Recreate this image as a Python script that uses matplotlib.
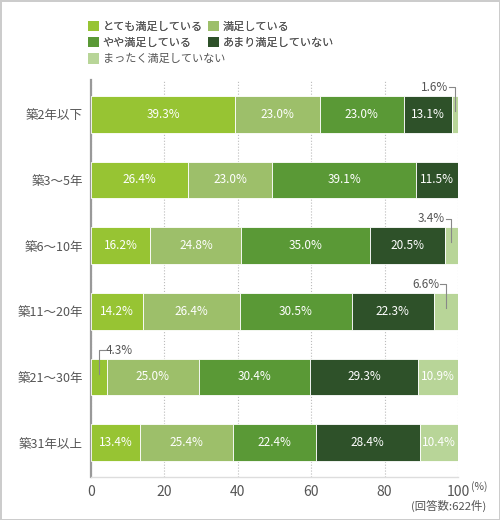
import matplotlib.pyplot as plt
from matplotlib.patches import Patch

plt.rcParams['font.family'] = ['Noto Sans CJK JP', 'DejaVu Sans']

rows = ['築2年以下', '築3～5年', '築6～10年', '築11～20年', '築21～30年', '築31年以上']
names = ['とても満足している', '満足している', 'やや満足している',
         'あまり満足していない', 'まったく満足していない']
colors = ['#97c433', '#9dbf6a', '#5a9936', '#2e5129', '#b8d598']

very = [39.3, 26.4, 16.2, 14.2, 4.3, 13.4]
satisfied = [23.0, 23.0, 24.8, 26.4, 25.0, 25.4]
somewhat = [23.0, 39.1, 35.0, 30.5, 30.4, 22.4]
not_much = [13.1, 11.5, 20.5, 22.3, 29.3, 28.4]
not_at_all = [1.6, 0.0, 3.4, 6.6, 10.9, 10.4]
series = [very, satisfied, somewhat, not_much, not_at_all]

fig = plt.figure(figsize=(5, 5.2), dpi=100)
fig.patch.set_edgecolor('#cccccc')
fig.patch.set_linewidth(2)
ax = fig.add_axes([0.182, 0.083, 0.734, 0.763])

bh = 0.56
ypos = list(range(len(rows)))
left = [0.0] * len(rows)
for vals, col in zip(series, colors):
    ax.barh(ypos, vals, left=left, height=bh, color=col, edgecolor='white',
            linewidth=0.6, zorder=3)
    for i, v in enumerate(vals):
        cx = left[i] + v / 2
        if v >= 10:
            ax.text(cx, i, f'{v:.1f}%', color='white', ha='center', va='center',
                    fontsize=8.5, zorder=4)
        elif v > 0:
            ytop = i - bh / 2 - 0.13
            ybot = i - 0.05
            if cx > 50:
                ax.plot([cx, cx, cx - 1.6], [ybot, ytop, ytop], color='#888888',
                        lw=0.8, zorder=5, clip_on=False)
                ax.text(cx - 1.8, ytop, f'{v:.1f}%', color='#555555', ha='right',
                        va='center', fontsize=8.5, zorder=5)
            else:
                ax.plot([cx, cx, cx + 1.6], [ybot, ytop, ytop], color='#888888',
                        lw=0.8, zorder=5, clip_on=False)
                ax.text(cx + 1.8, ytop, f'{v:.1f}%', color='#555555', ha='left',
                        va='center', fontsize=8.5, zorder=5)
    left = [a + b for a, b in zip(left, vals)]

ax.set_xlim(0, 100)
ax.set_ylim(5.52, -0.52)
ax.set_yticks(ypos)
ax.set_yticklabels(rows, fontsize=9, color='#555555')
ax.set_xticks([0, 20, 40, 60, 80, 100])
ax.set_xticklabels(['0', '20', '40', '60', '80', '100'], fontsize=10, color='#555555')
ax.tick_params(length=0, pad=6)
ax.xaxis.grid(True, linestyle=':', color='#bbbbbb', lw=0.8, zorder=0)
for s in ['top', 'right']:
    ax.spines[s].set_visible(False)
ax.spines['bottom'].set_color('#dddddd')
ax.spines['bottom'].set_linewidth(1.0)
ax.spines['left'].set_color('#999999')
ax.spines['left'].set_linewidth(1.6)

fig.text(0.941, 0.064, '(%)', fontsize=7.5, color='#555555', ha='left', va='center')
fig.text(0.972, 0.027, '(回答数:622件)', fontsize=8.2, color='#555555', ha='right', va='center')

# legend: two columns for the first four, the fifth on its own row
leg_kw = dict(frameon=False, fontsize=8, handlelength=1.05, handleheight=1.05,
              handletextpad=0.3, labelspacing=0.4, borderpad=0,
              labelcolor='#555555')
h4 = [Patch(facecolor=colors[k], label=names[k]) for k in [0, 2, 1, 3]]
leg1 = fig.legend(handles=h4, loc='upper left', bbox_to_anchor=(0.164, 0.97),
                  ncol=2, columnspacing=0.45, **leg_kw)
fig.add_artist(leg1)
h5 = [Patch(facecolor=colors[4], label=names[4])]
fig.legend(handles=h5, loc='upper left', bbox_to_anchor=(0.164, 0.908), **leg_kw)

fig.savefig('out.png', dpi=100)
